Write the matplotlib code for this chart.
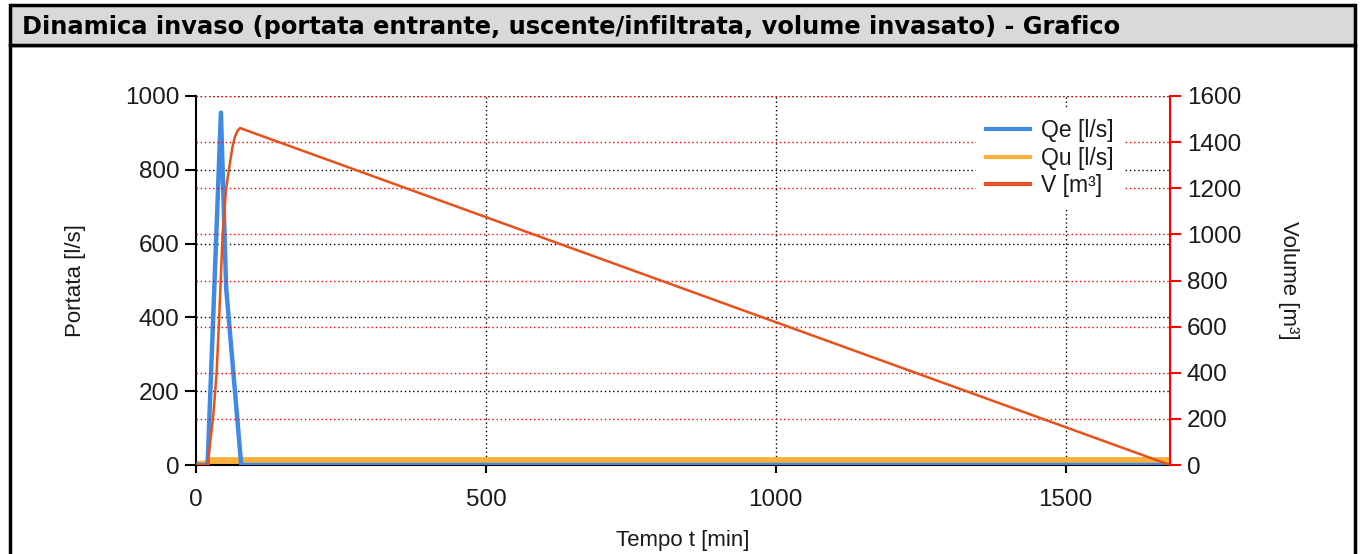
import matplotlib
matplotlib.use("Agg")
import matplotlib.pyplot as plt
from matplotlib.patches import Rectangle
from matplotlib.lines import Line2D

# Data
t_qe = [0, 20, 43, 52, 78, 1680]
qe = [0, 0, 955, 480, 0, 0]
t_qu = [0, 20, 22, 1680]
qu = [2, 2, 12, 12]
t_v = [0, 20, 30, 35.6, 40, 46, 52, 58.6, 63, 67, 72, 76, 1680]
v = [0, 0, 220, 400, 640, 1006, 1200, 1310, 1380, 1422, 1450, 1461, 0]

title = "Dinamica invaso (portata entrante, uscente/infiltrata, volume invasato) - Grafico"
left_ticks = [0, 200, 400, 600, 800, 1000]
right_ticks = [0, 200, 400, 600, 800, 1000, 1200, 1400, 1600]
x_ticks = [0, 500, 1000, 1500]

W, H = 1362, 554
fig = plt.figure(figsize=(W / 100, H / 100), dpi=100)
fig.patch.set_facecolor("white")

# frame and title bar
fig.patches.append(Rectangle((10 / W, -0.05), (1355 - 10) / W, (H - 45) / H + 0.05, transform=fig.transFigure,
                             facecolor="none", edgecolor="black", linewidth=2.5, zorder=-2))
fig.patches.append(Rectangle((10 / W, (H - 45) / H), (1355 - 10) / W, (45 - 5) / H, transform=fig.transFigure,
                             facecolor="#d9d9d9", edgecolor="black", linewidth=2.5, zorder=-1))
fig.text(22 / W, (H - 27) / H, title, fontsize=17.4, fontweight="bold", va="center", ha="left",
         family="DejaVu Sans", color="black")

x0, x1 = 196, 1170
y0, y1 = 465, 96
ax = fig.add_axes([x0 / W, (H - y0) / H, (x1 - x0) / W, (y0 - y1) / H])
ax2 = ax.twinx()
ax.set_zorder(2)
ax2.set_zorder(3)
ax.patch.set_visible(False)
ax2.patch.set_visible(False)

font = "Liberation Sans"
lab_col = "#1a1a1a"

ax.set_xlim(0, 1680)
ax.set_ylim(0, 1000)
ax2.set_ylim(0, 1600)

ax.set_xticks(x_ticks)
ax.set_yticks(left_ticks)
ax2.set_yticks(right_ticks)

# grids
for yt in left_ticks[1:]:
    ax.axhline(yt, color="black", linestyle=(0, (1, 2)), linewidth=1, zorder=0.5)
for xt in x_ticks[1:]:
    ax.axvline(xt, color="black", linestyle=(0, (1, 2)), linewidth=1, zorder=0.5)
for yt in right_ticks[1:]:
    ax2.axhline(yt, color="red", linestyle=(0, (1, 2)), linewidth=1, zorder=0.5)

for s in ["top", "right"]:
    ax.spines[s].set_visible(False)
for s in ["top", "left", "bottom"]:
    ax2.spines[s].set_visible(False)
ax.spines["left"].set_color("black")
ax.spines["bottom"].set_color("black")
ax.spines["left"].set_linewidth(1.5)
ax.spines["bottom"].set_linewidth(1.5)
ax2.spines["right"].set_color("red")
ax2.spines["right"].set_linewidth(1.5)

tick_fs = 17.5
ax.tick_params(axis="y", direction="out", length=8, width=1.5, colors="black",
               labelsize=tick_fs, labelcolor=lab_col, pad=4)
ax.tick_params(axis="x", direction="out", length=6, width=1.5, colors="black",
               labelsize=tick_fs, labelcolor=lab_col, pad=11)
ax2.tick_params(axis="y", direction="out", length=8, width=1.5, colors="red",
                labelsize=tick_fs, labelcolor=lab_col, pad=4)
for lbl in ax.get_xticklabels() + ax.get_yticklabels() + ax2.get_yticklabels():
    lbl.set_family(font)

# series
ax.plot(t_qe, qe, color="#3f8ae6", linewidth=3.2, zorder=3)
ax.plot(t_qu, qu, color="#f9b13c", linewidth=5, zorder=2.5)
ax2.plot(t_v, v, color="#e8501c", linewidth=1.8, zorder=3)

lab_fs = 16
ax.set_xlabel("Tempo t [min]", fontsize=lab_fs, family=font, color=lab_col, labelpad=14)
ax.set_ylabel("Portata [l/s]", fontsize=lab_fs, family=font, color=lab_col, labelpad=28)
ax2.set_ylabel("Volume [m³]", fontsize=lab_fs, family=font, color=lab_col, rotation=-90, labelpad=42)

handles = [Line2D([], [], color="#3f8ae6", lw=3), Line2D([], [], color="#f9b13c", lw=3),
           Line2D([], [], color="#e8501c", lw=3)]
leg = ax2.legend(handles, ["Qe [l/s]", "Qu [l/s]", "V [m³]"], loc="upper left",
                 bbox_to_anchor=((976 - x0) / (x1 - x0), (y0 - 109) / (y0 - y1)),
                 frameon=True, prop={"family": font, "size": 16.5}, handlelength=1.9,
                 handletextpad=0.5, labelspacing=0.2, borderpad=0.45, borderaxespad=0)
leg.get_frame().set_facecolor("white")
leg.get_frame().set_edgecolor("none")
leg.get_frame().set_alpha(1)
leg.get_frame().set_boxstyle("square", pad=0)
for t in leg.get_texts():
    t.set_color(lab_col)

fig.savefig("out.png", dpi=100)
